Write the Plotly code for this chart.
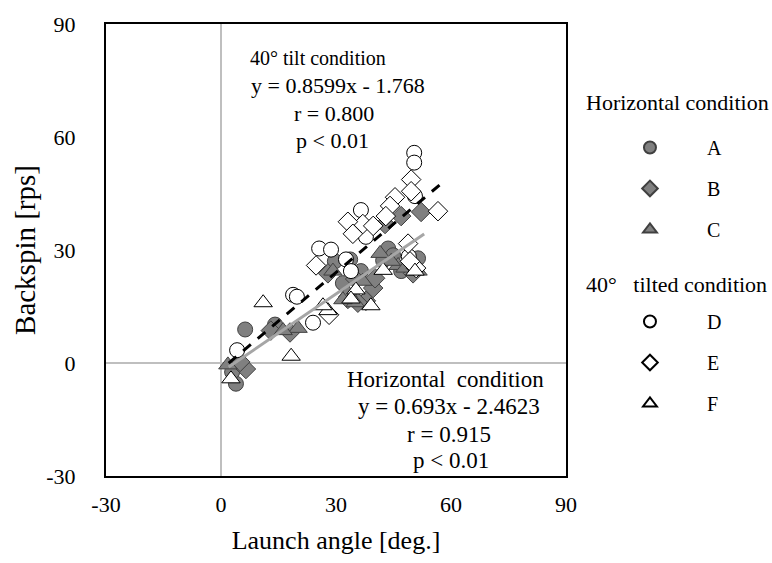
import plotly.graph_objects as go

# ---- data (launch angle [deg], backspin [rps]) ----
A_x = [6.3, 14.1, 3.9, 2.9, 29.7, 33.7, 43.6, 42.3, 44.9, 47.0, 48.8, 36.5, 31.8, 51.4]
A_y = [8.9, 10.2, -5.5, -2.4, 27.0, 27.5, 30.4, 27.2, 28.6, 24.4, 25.9, 24.4, 21.2, 27.8]

B_x = [52.2, 47.0, 42.8, 18.0, 6.5, 5.0, 39.7, 37.8, 35.7, 33.1, 40.2, 27.9, 50.1, 35.0, 13.0]
B_y = [40.1, 39.0, 36.9, 8.1, -1.6, 0.3, 19.9, 16.5, 16.0, 17.0, 22.5, 23.8, 23.8, 22.3, 8.6]

C_x = [51.4, 41.5, 20.1, 1.8, 33.1, 35.0, 31.8, 46.2, 48.0, 16.2, 37.0, 29.2, 44.4]
C_y = [24.4, 29.1, 9.2, -0.5, 18.6, 16.0, 16.8, 25.9, 25.2, 8.6, 21.7, 24.4, 27.0]

D_x = [50.4, 50.4, 36.5, 25.6, 28.7, 32.6, 33.9, 18.8, 19.8, 24.0, 4.2, 49.0, 37.8, 50.6]
D_y = [55.8, 53.2, 40.6, 30.4, 30.1, 27.5, 24.4, 18.1, 17.6, 10.7, 3.4, 28.3, 33.5, 44.3]

E_x = [49.6, 49.6, 45.4, 44.1, 56.6, 43.0, 37.0, 33.1, 34.4, 39.7, 24.8, 28.2, 50.9, 49.3, 48.8]
E_y = [48.7, 45.6, 44.0, 41.7, 40.3, 39.0, 36.9, 37.5, 34.3, 36.4, 25.9, 12.8, 25.2, 27.0, 31.7]

F_x = [11.0, 18.3, 2.6, 39.1, 35.2, 27.9, 42.3, 33.9, 50.6, 26.6]
F_y = [16.0, 1.8, -4.2, 15.2, 19.4, 13.9, 24.6, 17.0, 24.4, 15.2]

# regression lines (from the equations shown on the chart)
tilt_fit = {"slope": 0.8599, "intercept": -1.768, "x": [2.0, 57.5]}
horiz_fit = {"slope": 0.693, "intercept": -2.4623, "x": [2.0, 53.0]}

tick_vals = [-30, 0, 30, 60, 90]
tick_text = ["-30", "0", "30", "60", "90"]

FONT = "Liberation Serif, Times New Roman, serif"
FILL = "#808080"
EDGE_F = "#404040"

fig = go.Figure()

series = [
    ("A", A_x, A_y, "circle", FILL, EDGE_F, "legend", 15),
    ("B", B_x, B_y, "diamond", FILL, EDGE_F, "legend", 15),
    ("C", C_x, C_y, "triangle-up", FILL, EDGE_F, "legend", 16),
    ("D", D_x, D_y, "circle", "white", "#000000", "legend2", 15),
    ("E", E_x, E_y, "diamond", "white", "#000000", "legend2", 15),
    ("F", F_x, F_y, "triangle-up", "white", "#000000", "legend2", 16),
]
NB = "\u00a0"
for name, xs, ys, sym, fc, ec, lg, sz in series:
    fig.add_trace(go.Scatter(
        x=xs, y=ys, mode="markers", name=NB + name,
        legendgroup=name, legend=lg,
        marker=dict(symbol=sym, size=sz, color=fc, line=dict(color=ec, width=1)),
    ))

for fit, col, dash in [(horiz_fit, "#a6a6a6", "solid"), (tilt_fit, "#000000", "10px,9px")]:
    xs = fit["x"]
    ys = [fit["slope"] * v + fit["intercept"] for v in xs]
    fig.add_trace(go.Scatter(x=xs, y=ys, mode="lines", showlegend=False,
                             line=dict(color=col, width=3, dash=dash), hoverinfo="skip"))

texts = [
    ("40° tilt condition", 25.4, 81.0, 20),
    ("y = 0.8599x - 1.768", 30.5, 73.6, 22),
    ("r = 0.800", 29.5, 66.3, 22),
    ("p < 0.01", 29.2, 59.2, 22),
    ("Horizontal  condition", 58.5, -4.45, 23),
    ("y = 0.693x - 2.4623", 59.5, -11.5, 23),
    ("r = 0.915", 59.5, -18.9, 23),
    ("p < 0.01", 60.0, -25.9, 23),
]
for t, x, y, fs in texts:
    fig.add_annotation(text=t, x=x, y=y, xref="x", yref="y", showarrow=False,
                       font=dict(family=FONT, size=fs, color="black"),
                       xanchor="center", yanchor="middle")

# legend group titles
fig.add_annotation(text="Horizontal condition", x=1.04, y=0.8265, xref="paper", yref="paper",
                   showarrow=False, xanchor="left", yanchor="middle",
                   font=dict(family=FONT, size=22, color="black"))
fig.add_annotation(text="40°" + NB * 3 + "tilted condition", x=1.04, y=0.4244, xref="paper", yref="paper",
                   showarrow=False, xanchor="left", yanchor="middle",
                   font=dict(family=FONT, size=22, color="black"))

axis_common = dict(
    range=[-30, 90], tickvals=tick_vals, ticktext=tick_text, showgrid=False,
    zeroline=True, zerolinecolor="#bfbfbf", zerolinewidth=2,
    showline=True, linecolor="black", linewidth=2, mirror=True,
    ticks="", tickfont=dict(family=FONT, size=22, color="black"),
)

fig.update_layout(
    width=772, height=563,
    margin=dict(l=106, r=206, t=18, b=87),
    paper_bgcolor="white", plot_bgcolor="white",
    font=dict(family=FONT, color="black"),
    xaxis=dict(**axis_common, ticklabelstandoff=8,
               title=dict(text="Launch angle [deg.]", font=dict(family=FONT, size=26), standoff=14)),
    yaxis=dict(**axis_common, ticklabelstandoff=24,
               title=dict(text="Backspin [rps]", font=dict(family=FONT, size=29), standoff=2)),
    legend=dict(x=1.0695, y=0.77, xanchor="left", yanchor="top", tracegroupgap=12,
                itemwidth=94, itemsizing="constant", bgcolor="rgba(0,0,0,0)",
                font=dict(family=FONT, size=20, color="black")),
    legend2=dict(x=1.0695, y=0.385, xanchor="left", yanchor="top", tracegroupgap=12,
                 itemwidth=94, itemsizing="constant", bgcolor="rgba(0,0,0,0)",
                 font=dict(family=FONT, size=20, color="black")),
    showlegend=True,
)

fig.write_html("out.html")
